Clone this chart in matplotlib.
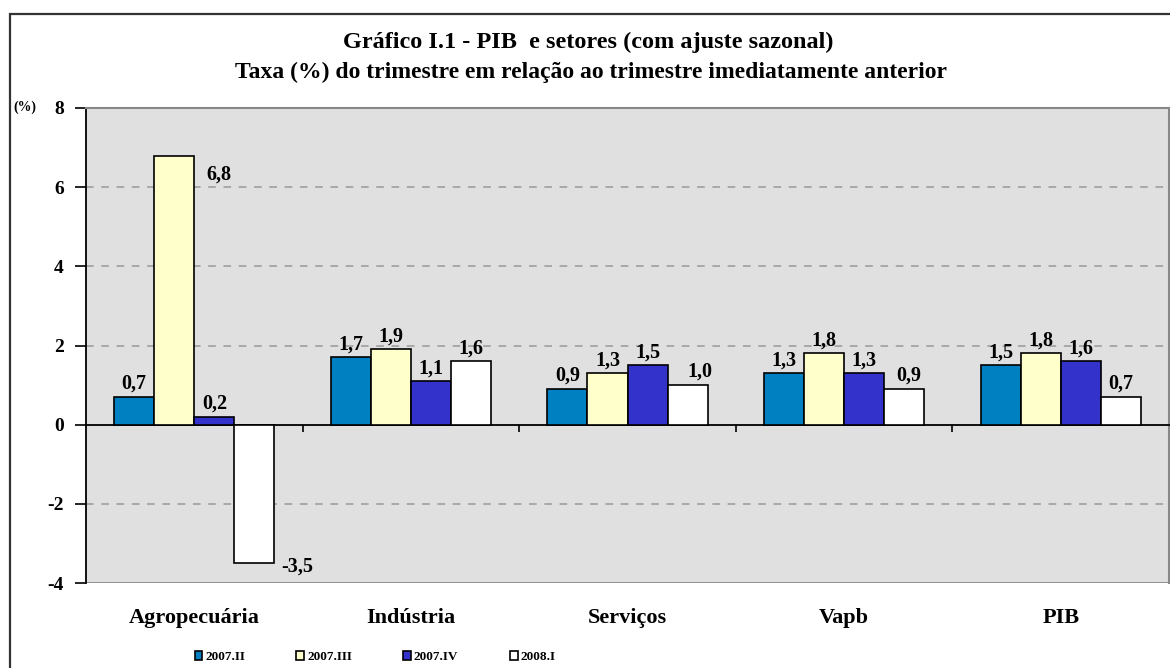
import matplotlib

matplotlib.use("Agg")
import matplotlib.pyplot as plt
import numpy as np
from matplotlib.patches import Rectangle

CATEGORIES = ["Agropecuária", "Indústria", "Serviços", "Vapb", "PIB"]
SERIES = ["2007.II", "2007.III", "2007.IV", "2008.I"]
V_2007_II = [0.7, 1.7, 0.9, 1.3, 1.5]
V_2007_III = [6.8, 1.9, 1.3, 1.8, 1.8]
V_2007_IV = [0.2, 1.1, 1.5, 1.3, 1.6]
V_2008_I = [-3.5, 1.6, 1.0, 0.9, 0.7]
Y_TICKS = [-4, -2, 0, 2, 4, 6, 8]

COLORS = ["#0080C0", "#FFFFCC", "#3333CC", "#FFFFFF"]
BAR_W = 0.185
FONT = "Liberation Serif"

# manual nudges (pixels) for a few value labels, keyed by (series, category)
LABEL_NUDGE = {(1, 0): (45, -32), (3, 0): (43, 10), (3, 2): (12, 0), (3, 3): (5, 0)}

fig = plt.figure(figsize=(11.7, 6.68), dpi=100)
ax = fig.add_axes([86 / 1170, 1 - 583 / 668, 1083 / 1170, 475 / 668])
ax.set_facecolor("#E0E0E0")

# outer chart frame (cropped on right/bottom)
fig.patches.append(
    Rectangle((10 / 1170, -0.05), 1.2, 1 - 14 / 668 + 0.05, transform=fig.transFigure,
              fill=False, edgecolor="#333333", linewidth=1.6, zorder=0)
)

x = np.arange(len(CATEGORIES))
values = [V_2007_II, V_2007_III, V_2007_IV, V_2008_I]
for i, (name, vals) in enumerate(zip(SERIES, values)):
    offs = (i - 1.5) * BAR_W
    bars = ax.bar(x + offs, vals, BAR_W, color=COLORS[i], edgecolor="black",
                  linewidth=1.2, label=name, zorder=3)
    for j, (b, v) in enumerate(zip(bars, vals)):
        dx, dy = LABEL_NUDGE.get((i, j), (0, 0))
        y = b.get_height() if v >= 0 else v
        va = "bottom" if v >= 0 else "top"
        base_dy = 3 if v >= 0 else -3
        ax.annotate(f"{v:.1f}".replace(".", ","), (b.get_x() + BAR_W / 2, y),
                    xytext=(dx, base_dy + dy), textcoords="offset pixels",
                    ha="center", va=va, fontsize=14.5, fontweight="bold",
                    family=FONT, zorder=5)

ax.set_xlim(-0.5, len(CATEGORIES) - 0.5)
ax.set_ylim(-4, 8)
ax.set_yticks(Y_TICKS)
ax.set_yticklabels([str(t) for t in Y_TICKS], fontsize=14, fontweight="bold", family=FONT)
ax.tick_params(axis="y", direction="out", length=8, width=1.2, pad=8, color="black")

for t in [-2, 2, 4, 6]:
    ax.axhline(t, color="#999999", linestyle=(0, (5, 5)), linewidth=1.1, zorder=1)

ax.spines["bottom"].set_position(("data", 0))
ax.spines["bottom"].set_color("black")
ax.spines["bottom"].set_linewidth(1.3)
ax.spines["left"].set_color("black")
ax.spines["left"].set_linewidth(1.3)
for s in ["top", "right"]:
    ax.spines[s].set_color("#888888")
    ax.spines[s].set_linewidth(1.5)
ax.axhline(-4, color="#888888", linewidth=2.0, zorder=2)

ax.set_xticks(x[:-1] + 0.5)
ax.set_xticklabels([])
ax.tick_params(axis="x", direction="out", length=5, width=1.2, color="black")

for xi, name in zip(x, CATEGORIES):
    ax.text(xi, -35 / 475, name, transform=ax.get_xaxis_transform(), ha="center",
            va="center", fontsize=16, fontweight="bold", family=FONT)

fig.text(0.503, 1 - 42 / 668, "Gráfico I.1 - PIB  e setores (com ajuste sazonal)",
         ha="center", va="center", fontsize=17.5, fontweight="bold", family=FONT)
fig.text(0.505, 1 - 72 / 668,
         "Taxa (%) do trimestre em relação ao trimestre imediatamente anterior",
         ha="center", va="center", fontsize=17, fontweight="bold", family=FONT)
fig.text(25 / 1170, 1 - 107 / 668, "(%)", ha="center", va="center", fontsize=10,
         fontweight="bold", family=FONT)

fig.legend(loc="center", bbox_to_anchor=(375 / 1170, 1 - 657 / 668), ncol=4,
           frameon=False, handlelength=0.6, handleheight=0.6, handletextpad=0.2,
           columnspacing=3.9, prop={"family": FONT, "weight": "bold", "size": 9.5})

fig.savefig("out.png", dpi=100)
